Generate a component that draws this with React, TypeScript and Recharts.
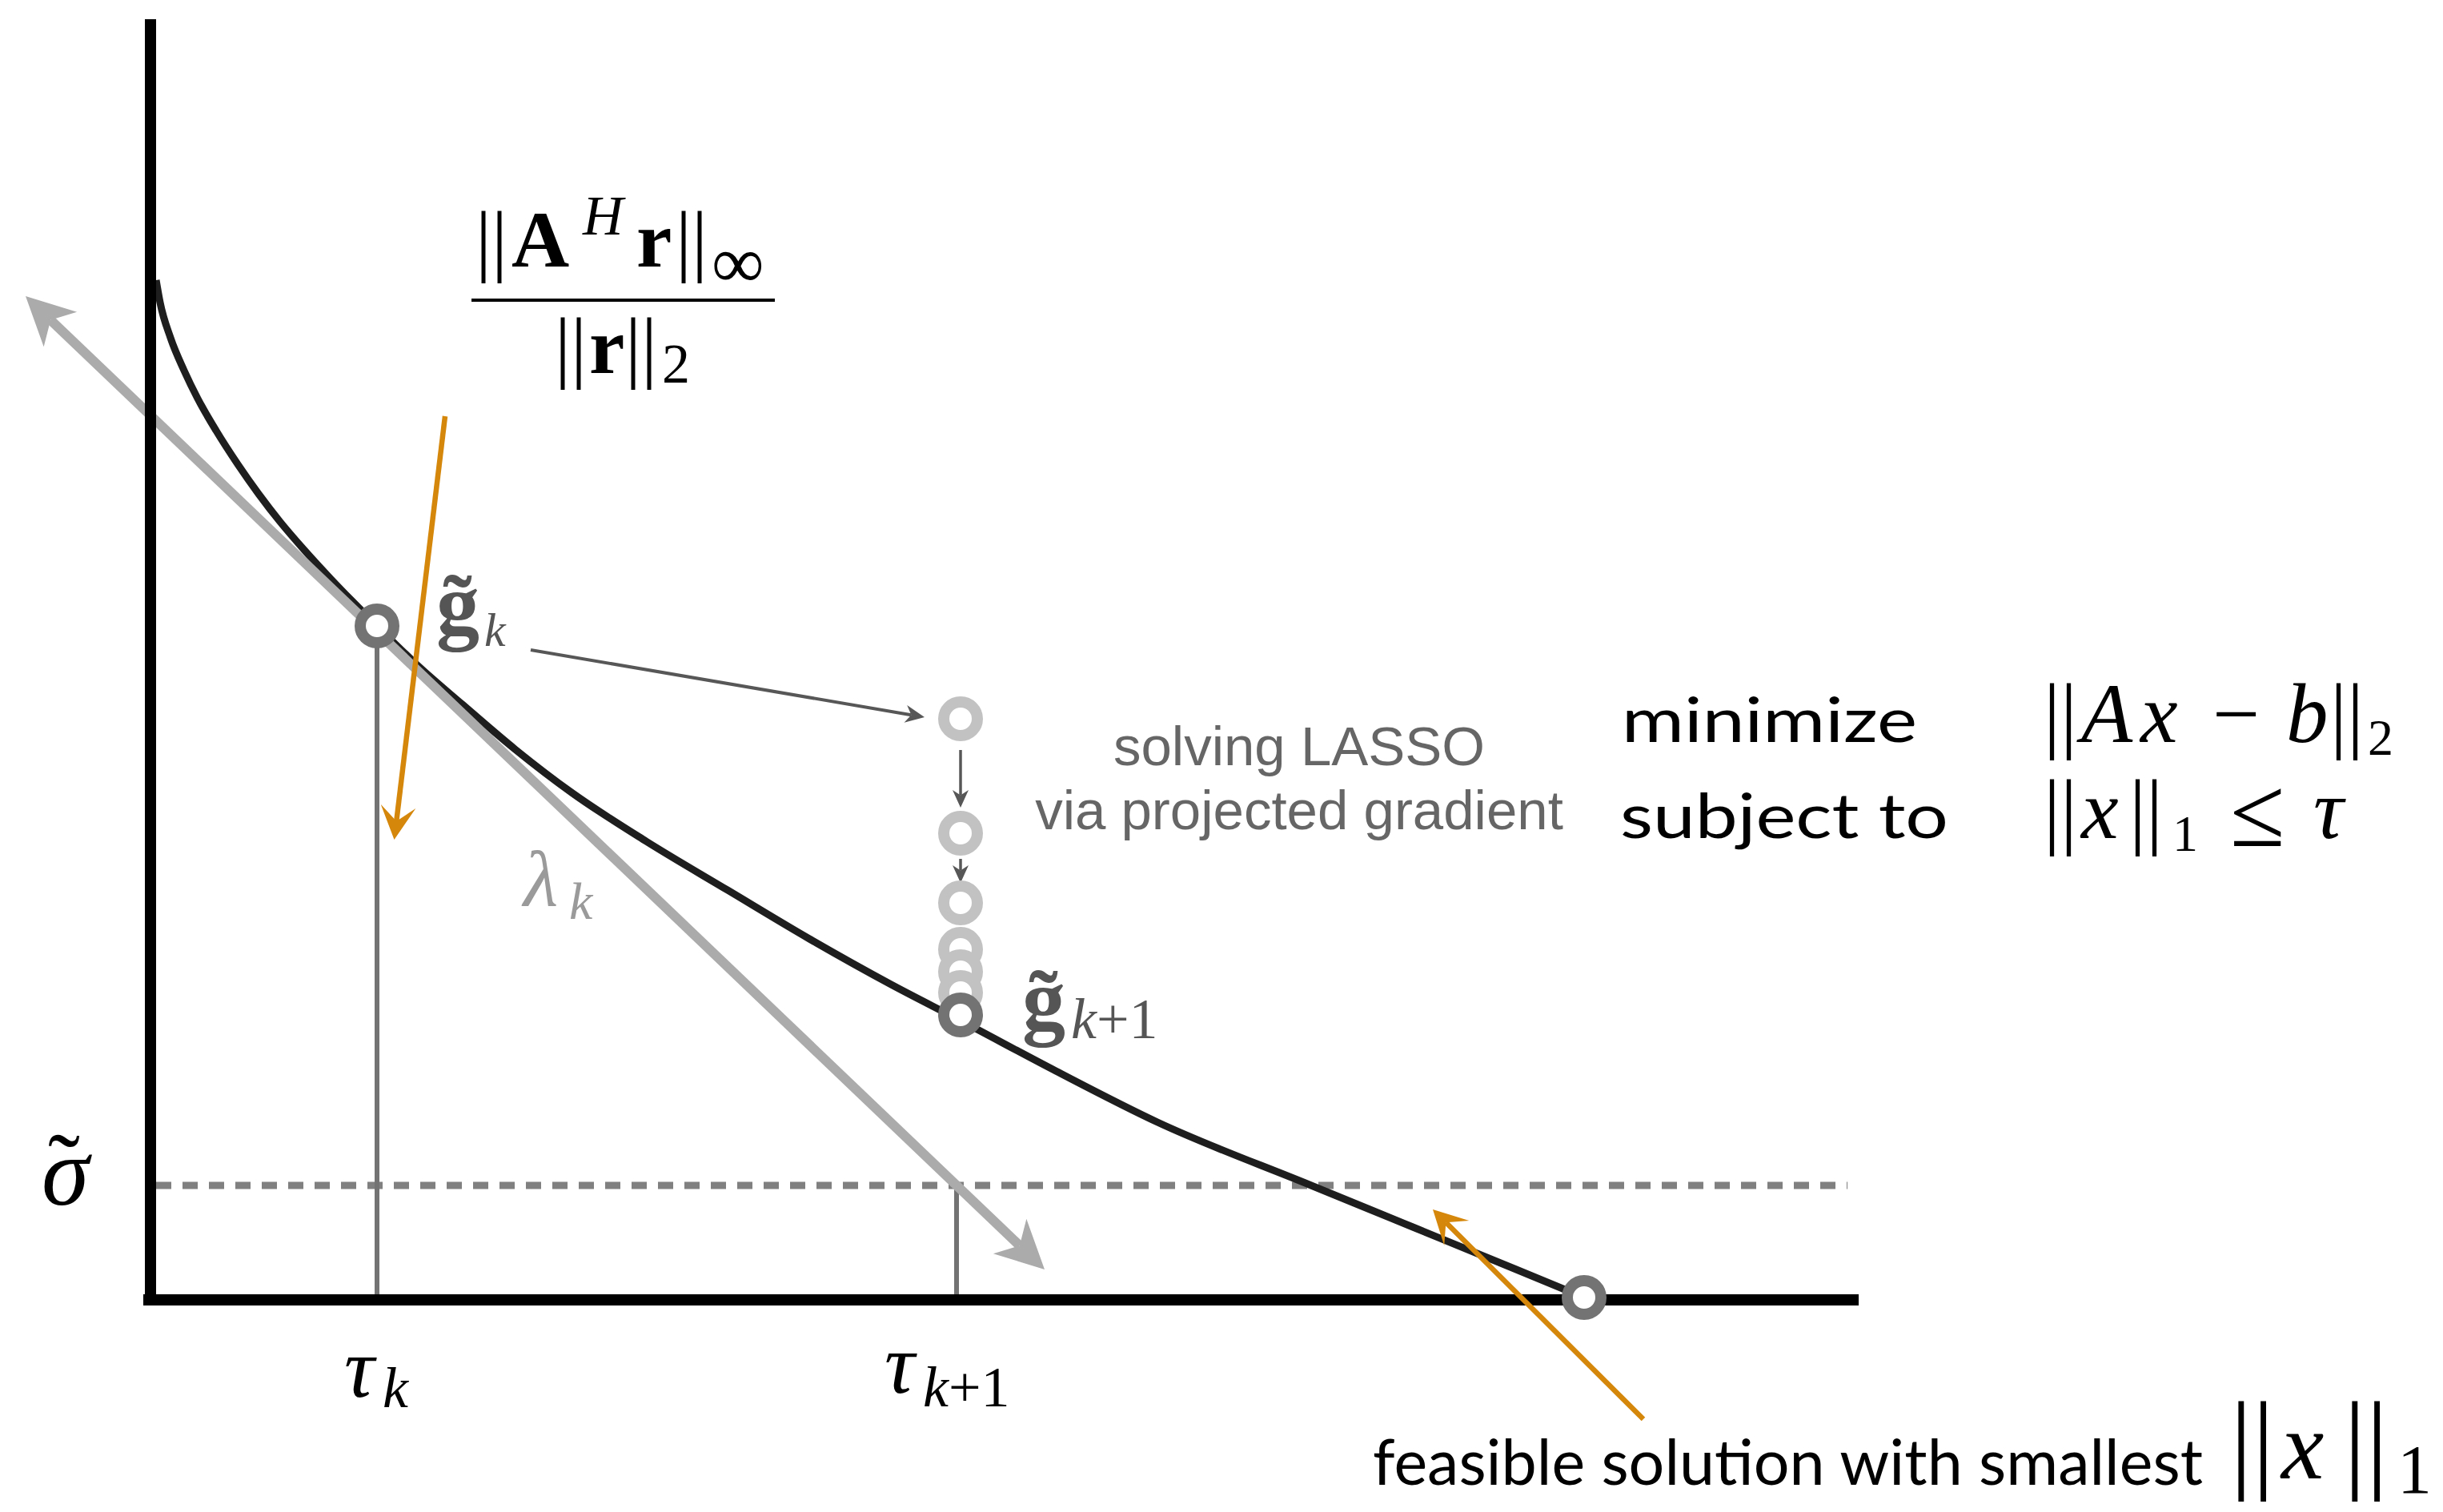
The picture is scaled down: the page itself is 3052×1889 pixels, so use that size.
import React from "react";
import { ComposedChart, Line, XAxis, YAxis, ReferenceLine, ReferenceDot } from "recharts";

const W = 3052;
const H = 1889;

// Pareto curve: residual norm (y) against the one-norm budget tau (x)
const curveTau = [0.07, 0.12, 0.25, 0.42, 0.59, 0.82, 1.09, 1.35, 1.62, 1.92, 2.25, 2.52, 2.84, 3.334, 3.896, 4.559, 5.273, 6.191, 7.212, 8.232, 9.253, 10.12, 11.31, 12.58, 14.5, 15.77, 17.05, 17.91];
const curveSigma = [12.74, 12.46, 12.02, 11.61, 11.26, 10.86, 10.44, 10.07, 9.72, 9.37, 9.01, 8.73, 8.41, 7.93, 7.44, 6.876, 6.33, 5.73, 5.118, 4.51, 3.94, 3.49, 2.86, 2.22, 1.43, 0.91, 0.385, 0.03];
const curve = curveTau.map((x, i) => ({ x, y: curveSigma[i] }));

// projected gradient iterates at tau_{k+1}
const iterateSigma = [7.26, 5.83, 4.96, 4.38, 4.1, 3.84];

const tauK = 2.83;
const sigmaK = 8.42;
const tauK1 = 10.12;
const sigmaK1 = 3.56;
const tauCross = 10.07;
const sigmaTilde = 1.43;
const tauEnd = 17.91;
const sigmaEnd = 0.03;

const xAxisTau = [-0.09, 21.34];
const yAxisSigma = [-0.07, 16.0];
const dashTau = [0.07, 21.2];

const tangentTau = [-1.56, 11.17];
const tangentSigma = [12.54, 0.38];
const dualTau = [3.68, 3.045];
const dualSigma = [11.04, 5.75];
const feasTau = [18.65, 16.02];
const feasSigma = [-1.49, 1.13];
const stepTau = [4.75, 9.67];
const stepSigma = [8.12, 7.28];
const innerSigma = [
  [6.87, 6.15],
  [5.51, 5.21],
];

const serif = "'Liberation Serif', 'Times New Roman', serif";
const sans = "Lato, 'Liberation Sans', sans-serif";
const helv = "'Liberation Sans', Arial, sans-serif";
const orange = "#d4870b";

const seg = (xs: number[], ys: number[]) => [
  { x: xs[0], y: ys[0] },
  { x: xs[1], y: ys[1] },
];

const arrow =
  (color: string, width: number, len: number, half: number, notch: number, both = false) =>
  (p: any) => {
    const { x1, y1, x2, y2 } = p;
    const d = Math.hypot(x2 - x1, y2 - y1) || 1;
    const ux = (x2 - x1) / d;
    const uy = (y2 - y1) / d;
    const head = (tx: number, ty: number, sx: number, sy: number) =>
      `M${tx},${ty}L${tx - sx * len - sy * half},${ty - sy * len + sx * half}` +
      `L${tx - sx * len * notch},${ty - sy * len * notch}` +
      `L${tx - sx * len + sy * half},${ty - sy * len - sx * half}Z`;
    const sx0 = both ? x1 + ux * len * notch : x1;
    const sy0 = both ? y1 + uy * len * notch : y1;
    return (
      <g>
        <line x1={sx0} y1={sy0} x2={x2 - ux * len * notch} y2={y2 - uy * len * notch} stroke={color} strokeWidth={width} />
        <path d={head(x2, y2, ux, uy)} fill={color} />
        {both && <path d={head(x1, y1, -ux, -uy)} fill={color} />}
      </g>
    );
  };

const at = (draw: (cx: number, cy: number) => React.ReactNode) => (p: any) => <g>{draw(p.cx, p.cy)}</g>;

export default function App() {
  return (
    <div style={{ position: "absolute", left: 0, top: 0, background: "#fff" }}>
      <ComposedChart width={W} height={H} margin={{ top: 0, right: 0, bottom: 0, left: 0 }}>
        <XAxis type="number" dataKey="x" domain={[-1.88, 28.64]} allowDataOverflow hide />
        <YAxis type="number" domain={[-2.65, 16.24]} allowDataOverflow hide />

        <ReferenceLine
          segment={[{ x: dashTau[0], y: sigmaTilde }, { x: dashTau[1], y: sigmaTilde }]}
          stroke="#808080"
          strokeWidth={9}
          strokeDasharray="19 14"
          ifOverflow="visible"
        />
        <ReferenceLine
          segment={[{ x: tauK, y: 0 }, { x: tauK, y: sigmaK }]}
          stroke="#737373"
          strokeWidth={6}
          ifOverflow="visible"
        />
        <ReferenceLine
          segment={[{ x: tauCross, y: 0 }, { x: tauCross, y: sigmaTilde }]}
          stroke="#737373"
          strokeWidth={6}
          ifOverflow="visible"
        />

        <Line
          data={curve}
          dataKey="y"
          type="monotone"
          stroke="#1e1e1e"
          strokeWidth={9}
          dot={false}
          activeDot={false}
          isAnimationActive={false}
        />

        <ReferenceLine segment={seg(tangentTau, tangentSigma)} ifOverflow="visible" shape={arrow("#ababab", 12, 60, 30, 0.72, true)} />

        <ReferenceLine segment={[{ x: xAxisTau[0], y: 0 }, { x: xAxisTau[1], y: 0 }]} stroke="#000" strokeWidth={14} ifOverflow="visible" />
        <ReferenceLine segment={[{ x: 0, y: yAxisSigma[0] }, { x: 0, y: yAxisSigma[1] }]} stroke="#000" strokeWidth={14} ifOverflow="visible" />

        <ReferenceLine segment={seg(stepTau, stepSigma)} ifOverflow="visible" shape={arrow("#575757", 4, 24, 11, 0.7)} />
        {innerSigma.map((s, i) => (
          <ReferenceLine
            key={i}
            segment={[{ x: tauK1, y: s[0] }, { x: tauK1, y: s[1] }]}
            ifOverflow="visible"
            shape={arrow("#575757", 3.5, 22, 10, 0.7)}
          />
        ))}

        {iterateSigma.map((s, i) => (
          <ReferenceDot key={i} x={tauK1} y={s} r={21} fill="#fff" stroke="#c2c2c2" strokeWidth={14} ifOverflow="visible" />
        ))}
        <ReferenceDot x={tauK} y={sigmaK} r={21} fill="#fff" stroke="#737373" strokeWidth={14} ifOverflow="visible" />
        <ReferenceDot x={tauK1} y={sigmaK1} r={21} fill="#fff" stroke="#737373" strokeWidth={14} ifOverflow="visible" />
        <ReferenceDot x={tauEnd} y={sigmaEnd} r={21} fill="#fff" stroke="#737373" strokeWidth={14} ifOverflow="visible" />

        <ReferenceLine segment={seg(dualTau, dualSigma)} ifOverflow="visible" shape={arrow(orange, 6.5, 42, 22, 0.55)} />
        <ReferenceLine segment={seg(feasTau, feasSigma)} ifOverflow="visible" shape={arrow(orange, 6.5, 42, 22, 0.55)} />

        {/* dual norm fraction */}
        <ReferenceDot
          x={5.91}
          y={12.49}
          r={1}
          ifOverflow="visible"
          shape={at((cx, cy) => (
            <>
              <text y={cy - 42} fontFamily={serif} fontSize={100} fill="#000">
                <tspan x={cx - 185}>||</tspan>
                <tspan x={cx - 140} fontWeight="bold">A</tspan>
                <tspan x={cx - 51} dy={-40} fontStyle="italic" fontSize={70}>H</tspan>
                <tspan x={cx + 16} dy={40} fontWeight="bold">r</tspan>
                <tspan x={cx + 65}>||</tspan>
                <tspan x={cx + 110} dy={26} fontSize={92}>∞</tspan>
              </text>
              <line x1={cx - 190} x2={cx + 189} y1={cy} y2={cy} stroke="#000" strokeWidth={4} />
              <text y={cy + 91} fontFamily={serif} fontSize={100} fill="#000">
                <tspan x={cx - 86}>||</tspan>
                <tspan x={cx - 43} fontWeight="bold">r</tspan>
                <tspan x={cx + 2}>||</tspan>
                <tspan x={cx + 48} dy={12} fontSize={70}>2</tspan>
              </text>
            </>
          ))}
        />

        {/* g_k label */}
        <ReferenceDot
          x={3.57}
          y={8.33}
          r={1}
          ifOverflow="visible"
          shape={at((cx, cy) => (
            <text y={cy} fontFamily={serif} fill="#555">
              <tspan x={cx} fontSize={108} fontWeight="bold">g̃</tspan>
              <tspan x={cx + 60} dy={16} fontSize={60} fontStyle="italic">k</tspan>
            </text>
          ))}
        />

        {/* lambda_k */}
        <ReferenceDot
          x={4.66}
          y={4.92}
          r={1}
          ifOverflow="visible"
          shape={at((cx, cy) => (
            <text y={cy} fontFamily={serif} fill="#9a9a9a" fontStyle="italic">
              <tspan x={cx} fontSize={100}>λ</tspan>
              <tspan x={cx + 57} dy={16} fontSize={66}>k</tspan>
            </text>
          ))}
        />

        {/* g_{k+1} label */}
        <ReferenceDot
          x={10.89}
          y={3.39}
          r={1}
          ifOverflow="visible"
          shape={at((cx, cy) => (
            <text y={cy} fontFamily={serif} fill="#555">
              <tspan x={cx} fontSize={108} fontWeight="bold">g̃</tspan>
              <tspan x={cx + 61} dy={12} fontSize={72} fontStyle="italic">k</tspan>
              <tspan fontSize={72}>+1</tspan>
            </text>
          ))}
        />

        {/* LASSO caption */}
        <ReferenceDot
          x={14.35}
          y={6.68}
          r={1}
          ifOverflow="visible"
          shape={at((cx, cy) => (
            <text x={cx} y={cy} fontFamily={helv} fontSize={69} fill="#666" textAnchor="middle">
              <tspan x={cx}>solving LASSO</tspan>
              <tspan x={cx} dy={80}>via projected gradient</tspan>
            </text>
          ))}
        />

        {/* optimisation problem */}
        <ReferenceDot
          x={18.36}
          y={6.97}
          r={1}
          ifOverflow="visible"
          shape={at((cx, cy) => (
            <>
              <text x={cx + 2} y={cy} fontFamily={sans} fontSize={78} fill="#000" textLength={369} lengthAdjust="spacingAndGlyphs">
                minimize
              </text>
              <text x={cx} y={cy + 120} fontFamily={sans} fontSize={78} fill="#000" textLength={410} lengthAdjust="spacingAndGlyphs">
                subject to
              </text>
              <text y={cy} fontFamily={serif} fontSize={105} fill="#000">
                <tspan x={cx + 529}>||</tspan>
                <tspan x={cx + 576} fontStyle="italic">A</tspan>
                <tspan x={cx + 650} fontStyle="italic">x</tspan>
                <tspan x={cx + 740}>−</tspan>
                <tspan x={cx + 832} fontStyle="italic">b</tspan>
                <tspan x={cx + 887}>||</tspan>
                <tspan x={cx + 934} dy={16} fontSize={64}>2</tspan>
              </text>
              <text y={cy + 120} fontFamily={serif} fontSize={105} fill="#000">
                <tspan x={cx + 529}>||</tspan>
                <tspan x={cx + 576} fontStyle="italic">x</tspan>
                <tspan x={cx + 636}>||</tspan>
                <tspan x={cx + 690} dy={16} fontSize={64}>1</tspan>
                <tspan x={cx + 762} dy={-6} fontSize={125}>≤</tspan>
                <tspan x={cx + 866} dy={-10} fontStyle="italic">τ</tspan>
              </text>
            </>
          ))}
        />

        {/* sigma tilde */}
        <ReferenceDot
          x={-1.06}
          y={1.19}
          r={1}
          ifOverflow="visible"
          shape={at((cx, cy) => (
            <text y={cy} fontFamily={serif} fontSize={120} fill="#000">
              <tspan x={cx - 30} fontStyle="italic">σ</tspan>
              <tspan x={cx - 22} dy={-6}>˜</tspan>
            </text>
          ))}
        />

        {/* tau_k and tau_{k+1} */}
        <ReferenceDot
          x={2.42}
          y={-1.21}
          r={1}
          ifOverflow="visible"
          shape={at((cx, cy) => (
            <text y={cy} fontFamily={serif} fill="#000" fontStyle="italic">
              <tspan x={cx} fontSize={105}>τ</tspan>
              <tspan x={cx + 48} dy={13} fontSize={72}>k</tspan>
            </text>
          ))}
        />
        <ReferenceDot
          x={9.17}
          y={-1.16}
          r={1}
          ifOverflow="visible"
          shape={at((cx, cy) => (
            <text y={cy} fontFamily={serif} fill="#000">
              <tspan x={cx} fontSize={105} fontStyle="italic">τ</tspan>
              <tspan x={cx + 48} dy={17} fontSize={72} fontStyle="italic">k</tspan>
              <tspan fontSize={72}>+1</tspan>
            </text>
          ))}
        />

        {/* feasible solution note */}
        <ReferenceDot
          x={15.27}
          y={-2.31}
          r={1}
          ifOverflow="visible"
          shape={at((cx, cy) => (
            <>
              <text x={cx} y={cy} fontFamily={sans} fontSize={80} fill="#000" textLength={1037} lengthAdjust="spacingAndGlyphs">
                feasible solution with smallest
              </text>
              <text y={cy - 8} fontFamily={serif} fill="#000">
                <tspan x={cx + 1071} fontSize={138}>||</tspan>
                <tspan x={cx + 1135} fontSize={120} fontStyle="italic">x</tspan>
                <tspan x={cx + 1213} fontSize={138}>||</tspan>
                <tspan x={cx + 1280} dy={18} fontSize={86}>1</tspan>
              </text>
            </>
          ))}
        />
      </ComposedChart>
    </div>
  );
}
